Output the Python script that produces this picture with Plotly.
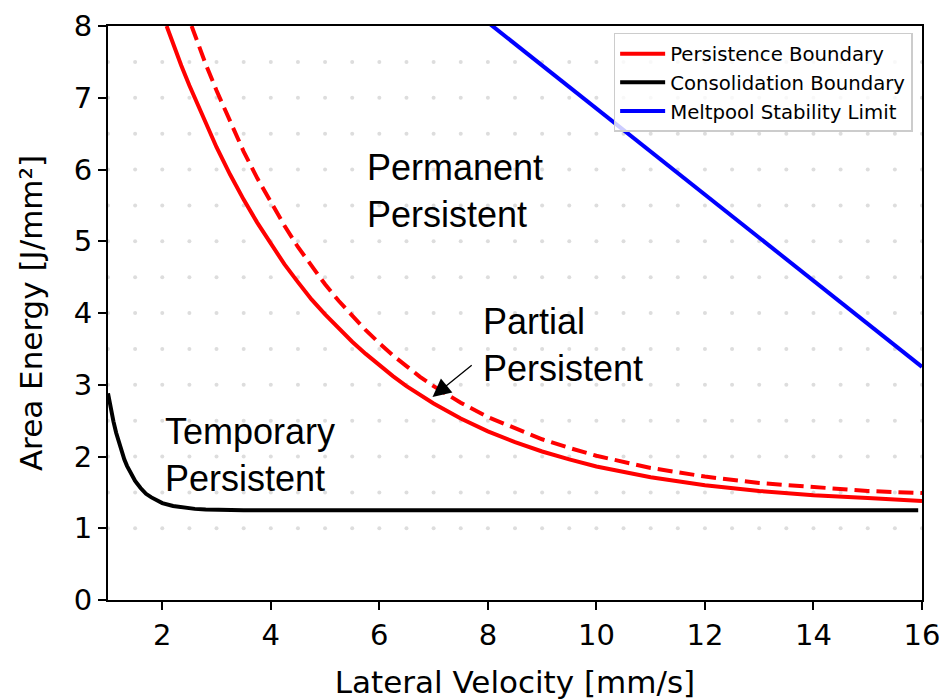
import numpy as np
import plotly.graph_objects as go

# ---- data ----
pers_x = [2.08, 2.2, 2.35, 2.5, 2.75, 3.0, 3.25, 3.5, 3.75, 4.0, 4.25, 4.5, 4.75, 5.0, 5.25, 5.5, 5.75,
          6.0, 6.25, 6.5, 6.75, 7.0, 7.5, 8.0, 8.5, 9.0, 9.5, 10.0, 11.0, 12.0, 13.0, 14.0, 15.0, 16.0]
pers_y = [8.0, 7.75, 7.45, 7.17, 6.73, 6.31, 5.93, 5.58, 5.26, 4.96, 4.68, 4.43, 4.19, 3.98, 3.79, 3.60, 3.43,
          3.27, 3.12, 2.98, 2.86, 2.74, 2.53, 2.35, 2.20, 2.07, 1.96, 1.86, 1.71, 1.60, 1.52, 1.46, 1.42, 1.38]

partial_x = [2.54, 2.65, 2.8, 3.0, 3.25, 3.5, 3.75, 4.0, 4.25, 4.5, 4.75, 5.0, 5.25, 5.5, 5.75, 6.0, 6.25, 6.5,
             6.75, 7.0, 7.5, 8.0, 8.5, 9.0, 9.5, 10.0, 11.0, 12.0, 13.0, 14.0, 15.0, 16.0]
partial_y = [8.0, 7.77, 7.47, 7.10, 6.66, 6.25, 5.88, 5.54, 5.22, 4.92, 4.65, 4.40, 4.17, 3.96, 3.76, 3.58, 3.41,
             3.26, 3.11, 2.98, 2.75, 2.55, 2.39, 2.24, 2.12, 2.01, 1.84, 1.72, 1.63, 1.57, 1.52, 1.49]

cons_x = [1.0, 1.05, 1.1, 1.15, 1.2, 1.25, 1.3, 1.35, 1.4, 1.45, 1.5, 1.6, 1.7, 1.8, 1.9, 2.0, 2.2, 2.4, 2.6,
          2.8, 3.0, 3.5, 4.0, 6.0, 8.0, 10.0, 12.0, 14.0, 15.93]
cons_y = [2.88, 2.67, 2.49, 2.33, 2.19, 2.07, 1.96, 1.87, 1.79, 1.72, 1.66, 1.56, 1.48, 1.43, 1.385, 1.35, 1.31,
          1.284, 1.27, 1.261, 1.256, 1.252, 1.25, 1.25, 1.25, 1.25, 1.25, 1.25, 1.25]

melt_x = [8.0, 16.0]
melt_y = [8.05, 3.25]

x_ticks = [2, 4, 6, 8, 10, 12, 14, 16]
y_ticks = [0, 1, 2, 3, 4, 5, 6, 7, 8]

grid_x = np.arange(1.0, 16.01, 0.5)
grid_y = np.arange(1.0, 7.51, 0.5)

labels = [
    ("Permanent<br>Persistent", 5.74, 5.70),
    ("Partial<br>Persistent", 7.87, 3.55),
    ("Temporary<br>Persistent", 2.01, 2.02),
]
arrow_tip = (6.98, 2.83)
arrow_tail = (7.73, 3.29)

TICK_FONT = "DejaVu Sans"
TEXT_FONT = "Liberation Sans, Arial"

fig = go.Figure()

gx, gy = np.meshgrid(grid_x, grid_y)
fig.add_trace(go.Scatter(
    x=gx.ravel(), y=gy.ravel(), mode="markers",
    marker=dict(size=4, color="#dddddd"), hoverinfo="skip", showlegend=False,
))

fig.add_trace(go.Scatter(
    x=pers_x, y=pers_y, mode="lines", name="Persistence Boundary",
    line=dict(color="#ff0000", width=4), legendrank=1,
))
fig.add_trace(go.Scatter(
    x=partial_x, y=partial_y, mode="lines", showlegend=False,
    line=dict(color="#ff0000", width=4, dash="15px,7px"),
))
fig.add_trace(go.Scatter(
    x=cons_x, y=cons_y, mode="lines", name="Consolidation Boundary",
    line=dict(color="#000000", width=4), legendrank=2,
))
fig.add_trace(go.Scatter(
    x=melt_x, y=melt_y, mode="lines", name="Meltpool Stability Limit",
    line=dict(color="#0000ff", width=4), legendrank=3,
))

for txt, x, y in labels:
    fig.add_annotation(
        x=x, y=y, xref="x", yref="y", text=txt, showarrow=False,
        xanchor="left", yanchor="middle", align="left",
        font=dict(family=TEXT_FONT, size=36, color="#000000"),
    )

fig.add_annotation(
    x=arrow_tip[0], y=arrow_tip[1], ax=arrow_tail[0], ay=arrow_tail[1],
    xref="x", yref="y", axref="x", ayref="y", text="",
    showarrow=True, arrowhead=2, arrowsize=2.8, arrowwidth=1.3, arrowcolor="#000000",
)

axis_common = dict(
    showline=True, linecolor="#000000", linewidth=2, mirror=True,
    ticks="outside", ticklen=8, tickwidth=2, tickcolor="#000000",
    showgrid=False, zeroline=False, automargin=False,
    tickfont=dict(family=TICK_FONT, size=29, color="#000000"),
)

fig.update_xaxes(
    range=[1, 16], tickvals=x_ticks, ticktext=[str(v) for v in x_ticks],
    title=dict(text="Lateral Velocity [mm/s]", font=dict(family=TICK_FONT, size=31, color="#000000"), standoff=23),
    **axis_common,
)
fig.update_yaxes(
    range=[0, 8], tickvals=y_ticks, ticktext=[str(v) for v in y_ticks],
    title=dict(text="Area Energy [J/mm²]", font=dict(family=TICK_FONT, size=31, color="#000000"), standoff=22),
    **axis_common,
)

fig.update_layout(
    width=949, height=700,
    margin=dict(l=108, r=27, t=26, b=100),
    plot_bgcolor="#ffffff", paper_bgcolor="#ffffff",
    showlegend=True,
    legend=dict(
        x=0.9885, y=0.988, xanchor="right", yanchor="top",
        bgcolor="rgba(255,255,255,0.8)", bordercolor="#cccccc", borderwidth=1.5,
        font=dict(family=TICK_FONT, size=19.7, color="#000000"),
        itemwidth=45, tracegroupgap=0,
    ),
)

fig.write_html("out.html")
